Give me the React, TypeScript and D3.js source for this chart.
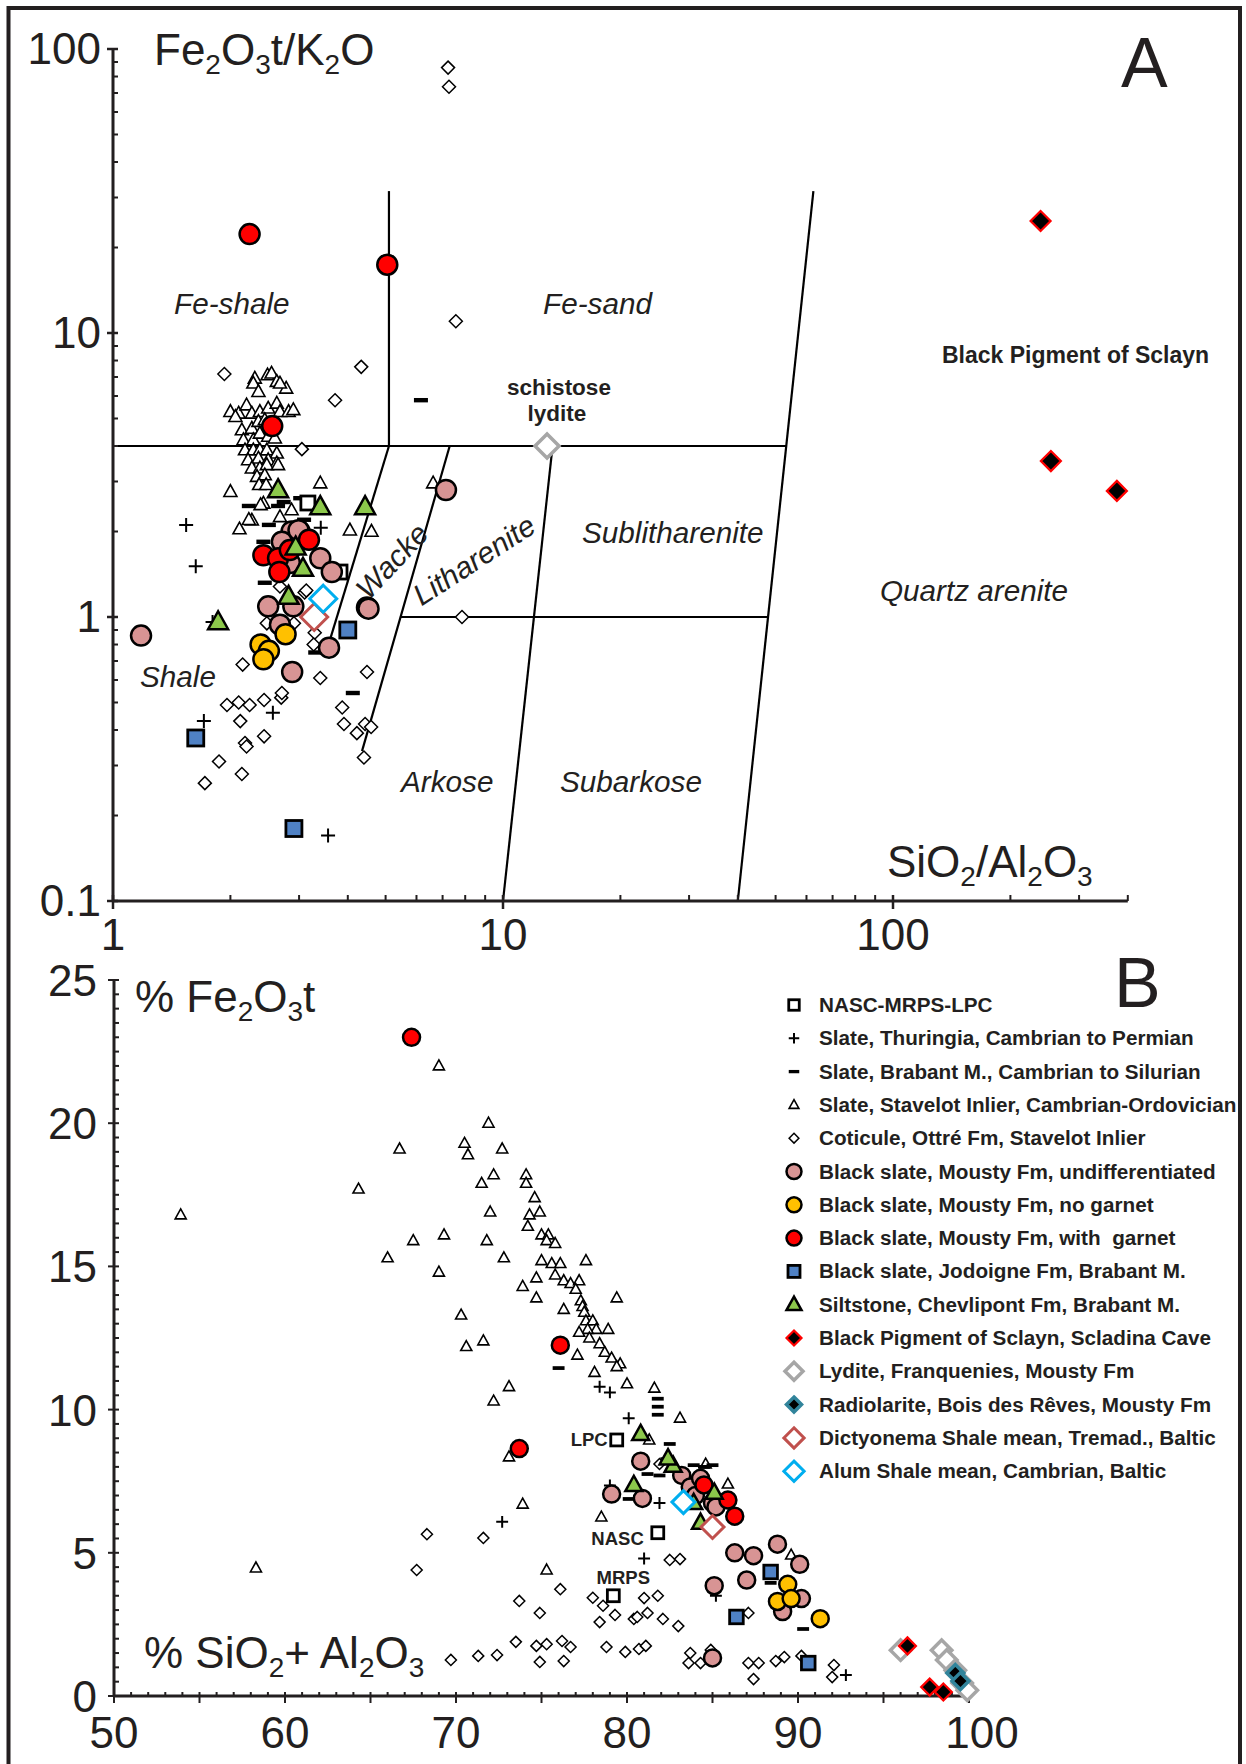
import * as d3 from "d3";
import React from "react";

const FONT = '"Liberation Sans", Arial, Helvetica, sans-serif';
const INK = "#231f20";

// ---------- panel A : Fe2O3t/K2O against SiO2/Al2O3 (log-log, Herron fields) ----------
const stavelotA = [
  [2.31, 6.92], [2.29, 6.65], [2.49, 7.11], [2.55, 7.21], [2.63, 6.74], [2.78, 6.38], [2.36, 6.21], [2.68, 6.65],
  [2.0, 5.28], [2.1, 5.21], [2.2, 5.57], [2.27, 5.21], [2.38, 5.28], [2.5, 5.43], [2.63, 5.65], [2.68, 5.28],
  [2.82, 5.28], [2.9, 5.36], [2.06, 5.07], [2.14, 4.55], [2.27, 4.61], [2.36, 4.87], [2.45, 4.94], [2.16, 4.2],
  [2.29, 4.2], [2.38, 4.43], [2.5, 4.32], [2.6, 4.26], [2.18, 3.87], [2.29, 3.87], [2.38, 3.87], [2.48, 3.87],
  [2.63, 3.77], [2.22, 3.57], [2.36, 3.62], [2.5, 3.57], [2.63, 3.48], [2.27, 3.34], [2.38, 3.34], [2.48, 3.43],
  [2.65, 3.43], [2.34, 3.12], [2.45, 3.16], [2.37, 2.92], [2.47, 2.92], [2.0, 2.76], [3.4, 2.96], [2.43, 2.51],
  [2.27, 2.19], [2.11, 2.04], [2.68, 2.25], [2.87, 2.38], [4.05, 2.02], [4.6, 2.0], [6.62, 2.96], [2.23, 2.2],
  [2.39, 2.48],
];
const coticuleA = [
  [7.23, 86], [7.27, 73.6], [7.57, 11.0], [4.33, 7.6], [3.71, 5.8], [1.93, 7.17], [3.05, 3.9], [2.15, 0.68],
  [1.96, 0.49], [2.1, 0.5], [2.24, 0.49], [2.44, 0.51], [2.7, 0.52], [2.71, 0.54], [2.12, 0.43], [2.18, 0.36],
  [2.44, 0.38], [1.87, 0.31], [2.14, 0.28], [1.72, 0.26], [3.4, 0.61], [4.48, 0.64], [3.87, 0.48], [3.91, 0.42],
  [4.22, 0.39], [4.43, 0.42], [4.59, 0.41], [4.4, 0.32], [7.85, 1.0], [2.48, 0.95], [2.68, 1.28], [2.91, 0.95],
  [3.1, 1.22], [3.29, 0.88], [3.27, 0.8], [3.13, 1.24], [2.2, 0.35],
];
const plusA = [[1.54, 2.11], [1.63, 1.51], [1.8, 0.96], [1.71, 0.43], [2.57, 0.46], [3.56, 0.17], [3.41, 2.06]];
const dashA = [
  [6.16, 5.8], [2.23, 2.46], [2.74, 2.54], [3.02, 2.62], [2.51, 2.11], [3.09, 2.2], [2.43, 1.84], [2.45, 1.32],
  [4.12, 0.54], [3.3, 0.75], [2.65, 2.46],
];
const nascA = [[3.16, 2.52], [3.82, 1.44]];
const pinkA = [
  [1.18, 0.86], [7.14, 2.8], [4.48, 1.08], [2.88, 0.64], [3.58, 0.78], [2.87, 2.0], [3.01, 2.0], [2.71, 1.84],
  [3.4, 1.61], [3.64, 1.44], [2.5, 1.09], [2.9, 1.09], [2.68, 0.94], [4.52, 1.07], [2.84, 1.55], [2.99, 2.02],
];
const orangeA = [[2.77, 0.87], [2.39, 0.8], [2.51, 0.76], [2.43, 0.71]];
const redA = [[2.24, 22.3], [5.05, 17.4], [2.56, 4.7], [3.18, 1.87], [2.43, 1.65], [2.65, 1.61], [2.67, 1.44], [2.84, 1.72]];
const blueA = [[1.63, 0.375], [2.91, 0.18], [4.0, 0.9]];
const greenA = [[2.65, 2.8], [3.4, 2.44], [4.43, 2.44], [2.94, 1.76], [3.07, 1.48], [2.82, 1.18], [1.86, 0.96]];
const dictyA = [[3.28, 1.0]];
const alumA = [[3.46, 1.16]];
const lyditeA = [[12.97, 4.0]];
const pigmentA = [[239, 24.8], [254, 3.54], [375, 2.78]];

// classification field boundaries (data space)
const fieldLines = [
  [[1, 4], [53.2, 4]],
  [[5.46, 1], [47.8, 1]],
  [[5.1, 4], [5.1, 31.6]],
  [[5.1, 4], [3.55, 0.78]],
  [[7.3, 4], [4.35, 0.337]],
  [[13.4, 4], [10, 0.1]],
  [[40, 0.1], [62.5, 31.6]],
];

// ---------- panel B : % Fe2O3t against % SiO2 + Al2O3 ----------
const stavelotB = [
  [53.9, 16.8], [64.3, 17.7], [66.7, 19.1], [69.0, 22.0], [71.9, 20.0], [70.5, 19.3], [70.7, 18.9], [72.7, 19.1],
  [72.2, 18.2], [71.5, 17.9], [74.1, 18.2], [74.1, 17.9], [74.6, 17.4], [74.9, 16.9], [72.0, 16.9], [74.3, 16.8],
  [74.2, 16.4], [75.0, 16.1], [75.4, 16.1], [75.3, 15.9], [75.8, 15.8], [67.5, 15.9], [69.3, 16.1], [71.8, 15.9],
  [66.0, 15.3], [72.8, 15.3], [75.0, 15.2], [75.6, 15.1], [76.1, 15.1], [77.6, 15.2], [69.0, 14.8], [74.7, 14.6],
  [75.8, 14.7], [76.3, 14.5], [76.7, 14.4], [77.2, 14.5], [77.0, 14.2], [73.9, 14.3], [74.7, 13.9], [79.4, 13.9],
  [77.3, 13.8], [77.4, 13.6], [77.5, 13.4], [76.3, 13.5], [77.6, 13.1], [78.0, 13.1], [70.3, 13.3], [78.2, 12.8],
  [78.9, 12.8], [77.7, 12.8], [77.2, 12.7], [77.8, 12.5], [78.4, 12.3], [71.6, 12.4], [70.6, 12.2], [77.1, 11.9],
  [78.7, 12.0], [79.1, 11.8], [79.6, 11.6], [79.4, 11.5], [78.1, 11.3], [73.1, 10.8], [72.2, 10.3], [73.9, 6.7],
  [73.1, 8.35], [78.5, 6.25], [58.3, 4.47], [75.3, 4.4], [80.0, 10.9], [81.6, 10.75], [83.1, 9.7], [81.3, 8.94],
  [84.6, 8.1], [85.9, 7.4], [89.6, 4.92],
];
const coticuleB = [
  [68.3, 5.65], [67.7, 4.4], [71.6, 5.52], [73.7, 3.32], [76.1, 3.73], [74.9, 2.9], [78.0, 3.43], [78.6, 3.15],
  [78.4, 2.58], [79.3, 2.83], [73.5, 1.89], [74.7, 1.75], [75.3, 1.81], [76.2, 1.92], [76.7, 1.71], [69.7, 1.26],
  [71.3, 1.4], [72.4, 1.43], [74.9, 1.19], [76.3, 1.22], [78.8, 1.71], [82.5, 4.75], [83.1, 4.78], [81.0, 3.42],
  [81.8, 3.5], [80.4, 2.69], [80.6, 2.76], [81.2, 2.9], [82.1, 2.69], [83.0, 2.44], [79.9, 1.54], [80.7, 1.64],
  [81.1, 1.75], [83.7, 1.5], [83.6, 1.15], [84.3, 1.15], [84.9, 1.61], [87.1, 1.15], [87.7, 1.15], [87.4, 0.59],
  [88.7, 1.22], [89.2, 1.36], [90.2, 1.4], [92.1, 1.08], [92.0, 0.66], [87.1, 2.9], [81.9, 8.1],
];
const plusB = [[72.7, 6.08], [78.4, 10.8], [79.0, 10.6], [80.1, 9.7], [81.9, 6.74], [81.0, 4.8], [85.2, 3.5], [92.8, 0.73], [79.0, 7.35], [82.3, 8.3]];
const dashB = [
  [76.0, 11.45], [81.8, 10.38], [81.8, 10.1], [81.8, 9.82], [82.5, 8.8], [81.2, 7.75], [81.9, 7.7], [83.9, 8.06],
  [85.0, 8.06], [80.1, 6.88], [90.3, 2.34], [88.4, 3.95], [84.5, 8.0],
];
const nascB = [[79.4, 8.94], [81.8, 5.7], [79.2, 3.5]];
const nascNames = ["LPC", "NASC", "MRPS"];
const pinkB = [
  [80.8, 8.2], [79.1, 7.05], [80.9, 6.9], [83.2, 7.7], [83.7, 7.3], [84.3, 7.6], [85.0, 6.74], [85.2, 6.6],
  [86.3, 5.0], [87.4, 4.9], [88.8, 5.3], [90.1, 4.6], [87.0, 4.05], [85.1, 3.85], [90.2, 3.4], [89.1, 2.95],
  [85.0, 1.33], [84.0, 7.0],
];
const orangeB = [[89.4, 3.9], [88.8, 3.3], [89.6, 3.4], [91.3, 2.7]];
const redB = [[67.4, 23.0], [76.1, 12.25], [73.7, 8.64], [84.5, 7.37], [85.9, 6.84], [86.3, 6.28]];
const blueB = [[88.4, 4.33], [86.4, 2.76], [90.6, 1.15]];
const greenB = [[80.8, 9.15], [80.4, 7.37], [82.7, 8.04], [82.4, 8.3], [85.1, 7.1], [84.3, 6.05], [83.9, 6.74]];
const alumB = [[83.3, 6.77]];
const dictyB = [[85.0, 5.9]];
const pigmentB = [[96.4, 1.75], [97.7, 0.31], [98.5, 0.14]];
const lyditeB = [[96.0, 1.6], [98.4, 1.6], [98.7, 1.26], [99.2, 0.9], [99.6, 0.45], [99.9, 0.2]];
const radioB = [[99.2, 0.8], [99.5, 0.52]];

// ---------- axes ----------
const xTicksA = [1, 10, 100];
const yTicksA = [0.1, 1, 10, 100];
const xTicksB = [50, 60, 70, 80, 90, 100];
const yTicksB = [0, 5, 10, 15, 20, 25];

// ---------- legend ----------
const legendKinds = ["nasc", "plus", "dash", "tri", "diam", "pink", "orange", "red", "blue", "green", "pigment", "lydite", "radio", "dicty", "alum"];
const legendLabels = [
  "NASC-MRPS-LPC",
  "Slate, Thuringia, Cambrian to Permian",
  "Slate, Brabant M., Cambrian to Silurian",
  "Slate, Stavelot Inlier, Cambrian-Ordovician",
  "Coticule, Ottré Fm, Stavelot Inlier",
  "Black slate, Mousty Fm, undifferentiated",
  "Black slate, Mousty Fm, no garnet",
  "Black slate, Mousty Fm, with  garnet",
  "Black slate, Jodoigne Fm, Brabant M.",
  "Siltstone, Chevlipont Fm, Brabant M.",
  "Black Pigment of Sclayn, Scladina Cave",
  "Lydite, Franquenies, Mousty Fm",
  "Radiolarite, Bois des Rêves, Mousty Fm",
  "Dictyonema Shale mean, Tremad., Baltic",
  "Alum Shale mean, Cambrian, Baltic",
];

const xA = d3.scaleLog().domain([1, 400]).range([113, 113 + 390 * Math.log10(400)]);
const yA = d3.scaleLog().domain([0.1, 100]).range([901, 49]);
const xB = d3.scaleLinear().domain([50, 100]).range([114, 969]);
const yB = d3.scaleLinear().domain([0, 25]).range([1696, 980]);

function Mark({ kind, x, y, s = 1 }: { kind: string; x: number; y: number; s?: number }) {
  const dia = (h: number, fill: string, stroke: string, sw: number) => (
    <path d={`M${x},${y - h}L${x + h},${y}L${x},${y + h}L${x - h},${y}Z`} fill={fill} stroke={stroke} strokeWidth={sw} strokeLinejoin="miter" />
  );
  const tri = (a: number, fill: string, sw: number) => {
    const h = a * 0.9;
    return <path d={`M${x},${y - h * 0.6}L${x + a / 2},${y + h * 0.4}L${x - a / 2},${y + h * 0.4}Z`} fill={fill} stroke="#000" strokeWidth={sw} strokeLinejoin="miter" />;
  };
  const circ = (fill: string) => <circle cx={x} cy={y} r={10 * s} fill={fill} stroke="#000" strokeWidth={2.5} />;
  switch (kind) {
    case "nasc":
      return <rect x={x - 7 * s} y={y - 7 * s} width={14 * s} height={14 * s} fill="#fff" stroke="#000" strokeWidth={2.8} />;
    case "plus":
      return <path d={`M${x - 7 * s},${y}H${x + 7 * s}M${x},${y - 7 * s}V${y + 7 * s}`} stroke="#000" strokeWidth={2} />;
    case "dash":
      return <rect x={x - 7 * s} y={y - 2.2 * s} width={14 * s} height={4.4 * s} fill="#000" />;
    case "tri":
      return tri(13 * s, "#fff", 1.6);
    case "diam":
      return dia(6.5 * s, "#fff", "#000", 1.5);
    case "pink":
      return circ("#d89494");
    case "orange":
      return circ("#ffc000");
    case "red":
      return circ("#ff0000");
    case "blue":
      return <rect x={x - 8 * s} y={y - 8 * s} width={16 * s} height={16 * s} fill="#4f81c4" stroke="#000" strokeWidth={2.8} />;
    case "green":
      return tri(20 * s, "#8cc84b", 2.5);
    case "pigment":
      return dia(10 * s, "#000", "#ff0000", 2.2);
    case "lydite":
      return dia(12 * s, "#fff", "#a6a6a6", 3.5);
    case "radio":
      return dia(10 * s, "#000", "#31849b", 3.5);
    case "dicty":
      return dia(13.5 * s, "#fff", "#c0504d", 3);
    case "alum":
      return dia(13.5 * s, "#fff", "#00aeef", 3);
    default:
      return null;
  }
}

const seriesA: [string, number[][]][] = [
  ["diam", coticuleA], ["tri", stavelotA], ["dash", dashA], ["plus", plusA], ["nasc", nascA], ["pink", pinkA],
  ["orange", orangeA], ["red", redA], ["blue", blueA], ["green", greenA], ["dicty", dictyA], ["alum", alumA],
  ["lydite", lyditeA], ["pigment", pigmentA],
];
const seriesB: [string, number[][]][] = [
  ["diam", coticuleB], ["tri", stavelotB], ["dash", dashB], ["plus", plusB], ["nasc", nascB], ["pink", pinkB],
  ["orange", orangeB], ["red", redB], ["blue", blueB], ["green", greenB], ["dicty", dictyB], ["alum", alumB],
  ["lydite", lyditeB], ["radio", radioB], ["pigment", pigmentB],
];

// chemical formula: parts starting with "_" are subscripts
function Formula({ x, y, parts }: { x: number; y: number; parts: string[] }) {
  let low = false;
  return (
    <text x={x} y={y} fontSize={44} fill={INK} style={{ whiteSpace: "pre" }}>
      {parts.map((p, i) => {
        const isSub = p.startsWith("_");
        const dy = isSub && !low ? 9 : !isSub && low ? -9 : 0;
        low = isSub;
        return (
          <tspan key={i} dy={dy} fontSize={isSub ? 28 : 44}>
            {isSub ? p.slice(1) : p}
          </tspan>
        );
      })}
    </text>
  );
}

export default function App() {
  const line = d3.line<number[]>().x((d) => xA(d[0])).y((d) => yA(d[1]));
  const [ax0, ax1] = xA.range();
  const [bx0, bx1] = xB.range();
  const italic = { fontStyle: "italic" as const, fontSize: 29.7, fill: INK };

  return (
    <svg width={1246} height={1764} style={{ position: "absolute", left: 0, top: 0, background: "#fff" }} fontFamily={FONT}>
      <rect x={8.5} y={8} width={1231.5} height={1820} fill="none" stroke={INK} strokeWidth={4} />

      {/* ===== panel A ===== */}
      <g>
        {fieldLines.map((l, i) => (
          <path key={i} d={line(l) as string} fill="none" stroke="#000" strokeWidth={2.2} />
        ))}
        <line x1={ax0} x2={ax1} y1={yA(0.1)} y2={yA(0.1)} stroke={INK} strokeWidth={3} />
        <line x1={ax0} x2={ax0} y1={yA(0.1)} y2={yA(100)} stroke={INK} strokeWidth={3} />
        {xA.ticks().map((t, i) => (
          <line key={"xa" + i} x1={xA(t)} x2={xA(t)} y1={yA(0.1)} y2={yA(0.1) - 6} stroke={INK} strokeWidth={2} />
        ))}
        {yA.ticks().map((t, i) => (
          <line key={"ya" + i} x1={ax0} x2={ax0 + 5} y1={yA(t)} y2={yA(t)} stroke={INK} strokeWidth={2} />
        ))}
        {xTicksA.map((t) => (
          <g key={"xta" + t}>
            <line x1={xA(t)} x2={xA(t)} y1={yA(0.1) - 6} y2={yA(0.1) + 8} stroke={INK} strokeWidth={2.5} />
            <text x={xA(t)} y={950} textAnchor="middle" fontSize={44} fill={INK}>{t}</text>
          </g>
        ))}
        {yTicksA.map((t) => (
          <g key={"yta" + t}>
            <line x1={ax0 - 6} x2={ax0 + 5} y1={yA(t)} y2={yA(t)} stroke={INK} strokeWidth={2.5} />
            <text x={101} y={yA(t) + 15} textAnchor="end" fontSize={44} fill={INK}>{t}</text>
          </g>
        ))}

        <Formula x={154} y={65} parts={["Fe", "_2", "O", "_3", "t/K", "_2", "O"]} />
        <Formula x={887} y={877} parts={["SiO", "_2", "/Al", "_2", "O", "_3"]} />
        <text x={1121} y={87} fontSize={70} fill={INK}>A</text>

        <text x={174} y={314} {...italic}>Fe-shale</text>
        <text x={543} y={314} {...italic}>Fe-sand</text>
        <text x={140} y={687} {...italic}>Shale</text>
        <text x={582} y={543} {...italic}>Sublitharenite</text>
        <text x={880} y={601} {...italic}>Quartz arenite</text>
        <text x={401} y={792} {...italic}>Arkose</text>
        <text x={560} y={792} {...italic}>Subarkose</text>
        <text transform="translate(392,561) rotate(-47)" textAnchor="middle" dy="0.35em" {...italic}>Wacke</text>
        <text transform="translate(474,560) rotate(-33)" textAnchor="middle" dy="0.35em" {...italic}>Litharenite</text>
        <text x={559} y={395} textAnchor="middle" fontSize={22.5} fontWeight="bold" fill={INK}>schistose</text>
        <text x={557} y={421} textAnchor="middle" fontSize={22.5} fontWeight="bold" fill={INK}>lydite</text>
        <text x={942} y={363} fontSize={23} fontWeight="bold" fill={INK}>Black Pigment of Sclayn</text>

        {seriesA.map(([kind, pts]) =>
          pts.map((d, i) => <Mark key={kind + i} kind={kind} x={xA(d[0])} y={yA(d[1])} s={1} />)
        )}
      </g>

      {/* ===== panel B ===== */}
      <g>
        <line x1={bx0} x2={bx1} y1={yB(0)} y2={yB(0)} stroke={INK} strokeWidth={3} />
        <line x1={bx0} x2={bx0} y1={yB(0)} y2={yB(25)} stroke={INK} strokeWidth={3} />
        {xB.ticks(50).map((t, i) => (
          <line key={"xb" + i} x1={xB(t)} x2={xB(t)} y1={yB(0) - 4} y2={t % 5 === 0 ? yB(0) + 7 : yB(0)} stroke={INK} strokeWidth={2} />
        ))}
        {yB.ticks(50).map((t, i) => (
          <line key={"yb" + i} x1={t % 5 === 0 ? bx0 - 6 : bx0} x2={bx0 + 5} y1={yB(t)} y2={yB(t)} stroke={INK} strokeWidth={2} />
        ))}
        {xTicksB.map((t) => (
          <text key={"xtb" + t} x={xB(t)} dx={t === 100 ? 13 : 0} y={1748} textAnchor="middle" fontSize={44} fill={INK}>{t}</text>
        ))}
        {yTicksB.map((t) => (
          <text key={"ytb" + t} x={97} y={yB(t) + 16} textAnchor="end" fontSize={44} fill={INK}>{t}</text>
        ))}

        <Formula x={135} y={1012} parts={["% Fe", "_2", "O", "_3", "t"]} />
        <Formula x={144} y={1668} parts={["% SiO", "_2", "+ Al", "_2", "O", "_3"]} />
        <text x={1114} y={1007} fontSize={70} fill={INK}>B</text>

        {seriesB.map(([kind, pts]) =>
          pts.map((d, i) => <Mark key={kind + i} kind={kind} x={xB(d[0])} y={yB(d[1])} s={0.85} />)
        )}

        {nascB.map((d, i) => {
          const x = xB(d[0]);
          const y = yB(d[1]);
          const pos =
            i === 0 ? { x: x - 9, y: y + 6, a: "end" } : i === 1 ? { x: x - 14, y: y + 12, a: "end" } : { x: x + 10, y: y - 12, a: "middle" };
          return (
            <text key={"nl" + i} x={pos.x} y={pos.y} textAnchor={pos.a} fontSize={18.5} fontWeight="bold" fill={INK}>
              {nascNames[i]}
            </text>
          );
        })}

        {legendLabels.map((label, i) => {
          const y = 1005 + i * 33.3;
          return (
            <g key={"lg" + i}>
              <Mark kind={legendKinds[i]} x={794} y={y} s={0.75} />
              <text x={819} y={y + 7} fontSize={20.7} fontWeight="bold" fill={INK} style={{ whiteSpace: "pre" }}>
                {label}
              </text>
            </g>
          );
        })}
      </g>
    </svg>
  );
}
